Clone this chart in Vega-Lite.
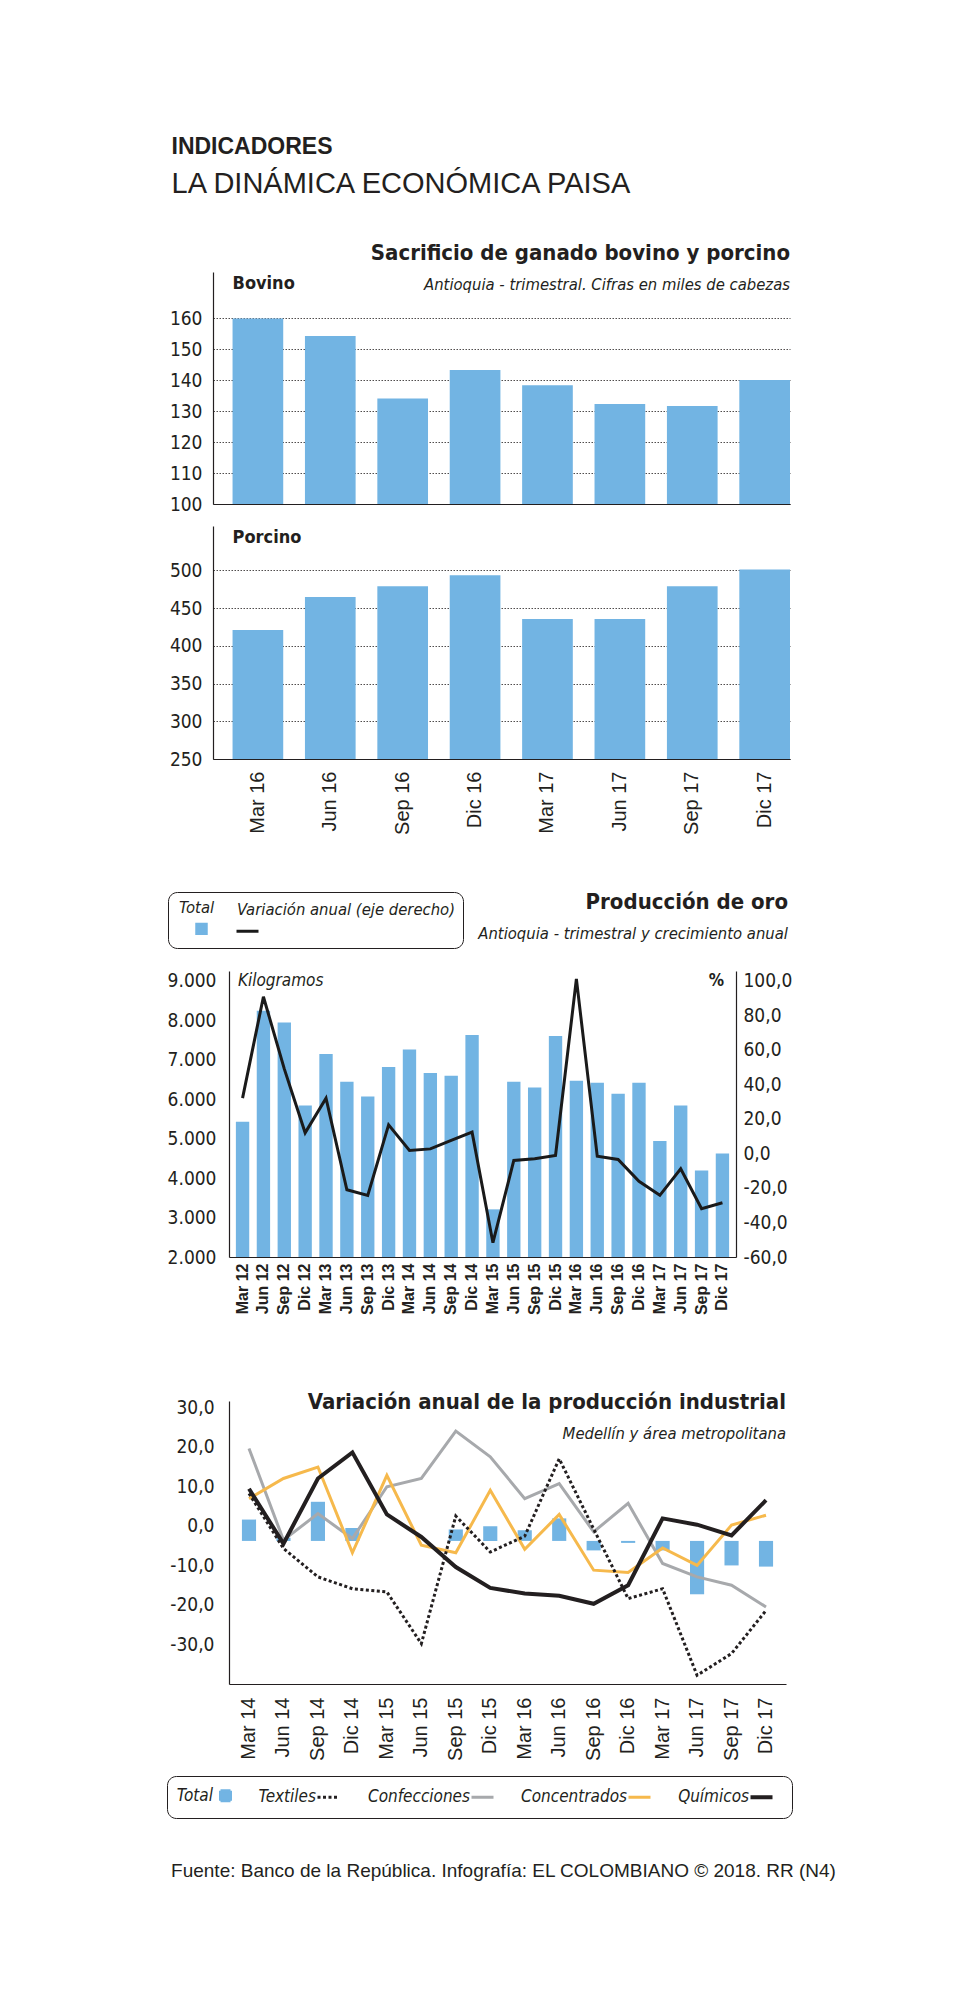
{
"$schema": "https://vega.github.io/schema/vega-lite/v6.json",
"background": "white",
"autosize": {"type": "pad"},
"padding": {"left": 166, "top": 135, "right": 10, "bottom": 10},
"title": {"text": "INDICADORES", "subtitle": "LA DINÁMICA ECONÓMICA PAISA", "anchor": "start", "frame": "bounds", "dx": 5, "offset": 43,
  "font": "Liberation Sans, Arial, sans-serif", "fontSize": 23, "fontWeight": 900, "color": "#231f20",
  "subtitleFont": "Liberation Sans, Arial, sans-serif", "subtitleFontSize": 29, "subtitleFontWeight": 300, "subtitleFontStyle": "normal", "subtitleColor": "#231f20", "subtitlePadding": 11},
"bounds": "flush",
"spacing": 0,
"resolve": {"scale": {"color": "independent"}, "legend": {"color": "independent"}},
"vconcat": [
 {
  "width": 561, "height": 232,
  "title": {"text": "Sacrificio de ganado bovino y porcino", "subtitle": "Antioquia - trimestral. Cifras en miles de cabezas", "anchor": "end", "frame": "group", "offset": -22},
  "layer": [
   {"data": {"values": [{"q":"Mar 16","v":160},{"q":"Jun 16","v":154.3},{"q":"Sep 16","v":134.1},{"q":"Dic 16","v":143.3},{"q":"Mar 17","v":138.4},{"q":"Jun 17","v":132.3},{"q":"Sep 17","v":131.7},{"q":"Dic 17","v":140.1}]},
    "mark": {"type": "bar", "color": "#72b4e3"},
    "encoding": {
     "x": {"field": "q", "type": "ordinal", "sort": null, "scale": {"range": [-16, 561], "paddingInner": 0.3, "paddingOuter": 0.135, "align": 1}, "axis": {"labels": false, "domain": true, "title": null}},
     "y": {"field": "v", "type": "quantitative", "scale": {"domain": [100, 175], "zero": false, "nice": false}, "axis": {"values": [100,110,120,130,140,150,160], "labelOverlap": false, "grid": true, "gridDash": [1.5,1.5], "gridColor": "#231f20", "gridWidth": 0.8, "offset": 16, "labelPadding": 11}},
     "y2": {"datum": 100}
    }},
   {"data": {"values": [{"t": "Bovino"}]},
    "mark": {"type": "text", "align": "left", "baseline": "top", "font": "Liberation Sans Narrow, DejaVu Sans Condensed, Arial Narrow, sans-serif", "fontWeight": "bold", "fontSize": 18, "dy": 3, "color": "#231f20"},
    "encoding": {"text": {"field": "t"}, "x": {"datum": "Mar 16", "bandPosition": 0},
     "y": {"datum": 175, "type": "quantitative", "axis": {"values": [100,110,120,130,140,150,160], "labelOverlap": false, "grid": true, "gridDash": [1.5,1.5], "gridColor": "#231f20", "gridWidth": 0.8, "offset": 16, "labelPadding": 11}}}}
  ]
 },
 {"width": 10, "height": 22, "data": {"values": [{"a": 1}]}, "mark": {"type": "text"}, "encoding": {"text": {"value": ""}}},
 {
  "width": 561, "height": 233,
  "layer": [
   {"data": {"values": [{"q":"Mar 16","v":421},{"q":"Jun 16","v":464.7},{"q":"Sep 16","v":479.2},{"q":"Dic 16","v":493.8},{"q":"Mar 17","v":435.5},{"q":"Jun 17","v":435.5},{"q":"Sep 17","v":479.2},{"q":"Dic 17","v":501.3}]},
    "mark": {"type": "bar", "color": "#72b4e3"},
    "encoding": {
     "x": {"field": "q", "type": "ordinal", "sort": null, "scale": {"range": [-16, 561], "paddingInner": 0.3, "paddingOuter": 0.135, "align": 1}, "axis": {"labelAngle": -90, "labelFont": "Liberation Sans, Arial, sans-serif", "labelFontSize": 20, "labelPadding": 12, "labelOverlap": false, "domain": true, "title": null}},
     "y": {"field": "v", "type": "quantitative", "scale": {"domain": [250, 559], "zero": false, "nice": false}, "axis": {"values": [250,300,350,400,450,500], "labelOverlap": false, "grid": true, "gridDash": [1.5,1.5], "gridColor": "#231f20", "gridWidth": 0.8, "offset": 16, "labelPadding": 11}},
     "y2": {"datum": 250}
    }},
   {"data": {"values": [{"t": "Porcino"}]},
    "mark": {"type": "text", "align": "left", "baseline": "top", "font": "Liberation Sans Narrow, DejaVu Sans Condensed, Arial Narrow, sans-serif", "fontWeight": "bold", "fontSize": 18, "dy": 3, "color": "#231f20"},
    "encoding": {"text": {"field": "t"}, "x": {"datum": "Mar 16", "bandPosition": 0},
     "y": {"datum": 559, "type": "quantitative", "axis": {"values": [250,300,350,400,450,500], "labelOverlap": false, "grid": true, "gridDash": [1.5,1.5], "gridColor": "#231f20", "gridWidth": 0.8, "offset": 16, "labelPadding": 11}}}}
  ]
 },
 {"width": 10, "height": 212, "data": {"values": [{"a": 1}]}, "mark": {"type": "text"}, "encoding": {"text": {"value": ""}}},
 {
  "width": 507, "height": 286,
  "title": {"text": "Producción de oro", "subtitle": "Antioquia - trimestral y crecimiento anual", "anchor": "end", "frame": "group", "offset": -52, "dx": 52},
  "data": {"values": [
   {"q":"Mar 12","kg":5425,"var":32.0},{"q":"Jun 12","kg":8241,"var":90.7},{"q":"Sep 12","kg":7938,"var":48.9},{"q":"Dic 12","kg":5838,"var":11.9},
   {"q":"Mar 13","kg":7145,"var":32.0},{"q":"Jun 13","kg":6437,"var":-21.1},{"q":"Sep 13","kg":6066,"var":-24.3},{"q":"Dic 13","kg":6816,"var":16.5},
   {"q":"Mar 14","kg":7255,"var":1.7},{"q":"Jun 14","kg":6664,"var":2.6},{"q":"Sep 14","kg":6589,"var":7.5},{"q":"Dic 14","kg":7626,"var":12.3},
   {"q":"Mar 15","kg":3207,"var":-51.7},{"q":"Jun 15","kg":6437,"var":-4.1},{"q":"Sep 15","kg":6293,"var":-3.1},{"q":"Dic 15","kg":7600,"var":-1.2},
   {"q":"Mar 16","kg":6462,"var":101.0},{"q":"Jun 16","kg":6411,"var":-1.6},{"q":"Sep 16","kg":6133,"var":-3.5},{"q":"Dic 16","kg":6411,"var":-16.2},
   {"q":"Mar 17","kg":4936,"var":-24.3},{"q":"Jun 17","kg":5838,"var":-8.9},{"q":"Sep 17","kg":4194,"var":-32.0},{"q":"Dic 17","kg":4624,"var":-28.6}
  ]},
  "encoding": {
   "x": {"field": "q", "type": "ordinal", "sort": null, "scale": {"paddingInner": 0.36, "paddingOuter": 0.33}, "axis": {"labelAngle": -90, "labelFont": "Liberation Sans, Arial, sans-serif", "labelFontSize": 16, "labelFontWeight": "bold", "labelPadding": 6, "labelOverlap": false, "domain": true, "title": null}}
  },
  "layer": [
   {"layer": [
     {"mark": {"type": "bar"},
      "encoding": {
       "y": {"field": "kg", "type": "quantitative", "scale": {"domain": [2000, 9245], "zero": false, "nice": false}, "axis": {"values": [2000,3000,4000,5000,6000,7000,8000,9000], "labelOverlap": false, "labelExpr": "replace(format(datum.value, ',d'), ',', '.')", "labelPadding": 13}},
       "y2": {"datum": 2000},
       "color": {"datum": "Total", "type": "nominal", "scale": {"domain": ["Total", "Variación anual (eje derecho)"], "range": ["#72b4e3", "#1a1a1a"]},
        "legend": {"orient": "none", "legendX": -61, "legendY": -79, "direction": "horizontal",
         "title": " ", "titleFontSize": 14, "titlePadding": 2, "titleOrient": "top",
         "strokeColor": "#231f20", "cornerRadius": 9, "padding": 8,
         "labelFont": "Liberation Sans Narrow, DejaVu Sans Condensed, Arial Narrow, sans-serif", "labelFontStyle": "italic", "labelFontSize": 16.5, "labelColor": "#231f20", "labelLimit": 400,
         "labelOffset": -23, "symbolOffset": 13, "columnPadding": 7, "symbolSize": 484,
         "encode": {
          "symbols": {"update": {
           "shape": {"signal": "datum.value === 'Total' ? 'square' : 'stroke'"},
           "size": {"signal": "datum.value === 'Total' ? 90 : 484"},
           "fill": {"signal": "datum.value === 'Total' ? '#72b4e3' : 'transparent'"},
           "stroke": {"signal": "datum.value === 'Total' ? 'transparent' : '#1a1a1a'"},
           "strokeWidth": {"value": 3},
           "opacity": {"value": 1}}},
          "labels": {"update": {"dx": {"signal": "datum.value === 'Total' ? -12 : 0"}, "dy": {"value": -21}}}
         }}}
      }},
     {"data": {"values": [{"t": "Kilogramos"}]},
      "mark": {"type": "text", "align": "left", "baseline": "middle", "font": "Liberation Sans Narrow, DejaVu Sans Condensed, Arial Narrow, sans-serif", "fontStyle": "italic", "fontSize": 17, "dx": 2, "color": "#231f20"},
      "encoding": {"text": {"field": "t"}, "x": {"datum": "Mar 12", "bandPosition": 0}, "y": {"datum": 9000}}},
     {"data": {"values": [{"t": "%"}]},
      "mark": {"type": "text", "align": "right", "baseline": "middle", "font": "Liberation Sans Narrow, DejaVu Sans Condensed, Arial Narrow, sans-serif", "fontWeight": "bold", "fontSize": 17, "dx": -5, "color": "#231f20"},
      "encoding": {"text": {"field": "t"}, "x": {"datum": "Dic 17", "bandPosition": 1}, "y": {"datum": 9000}}}
   ]},
   {"mark": {"type": "line", "strokeWidth": 3, "strokeJoin": "miter"},
    "encoding": {
     "y": {"field": "var", "type": "quantitative", "scale": {"domain": [-60, 105.6], "zero": false, "nice": false}, "axis": {"orient": "right", "values": [-60,-40,-20,0,20,40,60,80,100], "labelOverlap": false, "labelExpr": "replace(replace(format(datum.value, '.1f'), '.', ','), '\u2212', '-')", "labelPadding": 7}},
     "color": {"datum": "Variación anual (eje derecho)", "type": "nominal"}
    }}
  ],
  "resolve": {"scale": {"y": "independent"}}
 },
 {"width": 10, "height": 144, "data": {"values": [{"a": 1}]}, "mark": {"type": "text"}, "encoding": {"text": {"value": ""}}},
 {
  "width": 557, "height": 283,
  "title": {"text": "Variación anual de la producción industrial", "subtitle": "Medellín y área metropolitana", "anchor": "end", "frame": "group", "offset": -45},
  "data": {"values": [
   {"q":"Mar 14","s":"Total","v":5.4},{"q":"Jun 14","s":"Total","v":0.8},{"q":"Sep 14","s":"Total","v":9.9},{"q":"Dic 14","s":"Total","v":3.3},{"q":"Mar 15","s":"Total","v":0},{"q":"Jun 15","s":"Total","v":0},{"q":"Sep 15","s":"Total","v":2.9},{"q":"Dic 15","s":"Total","v":3.7},{"q":"Mar 16","s":"Total","v":2.7},{"q":"Jun 16","s":"Total","v":5.7},{"q":"Sep 16","s":"Total","v":-2.4},{"q":"Dic 16","s":"Total","v":-0.5},{"q":"Mar 17","s":"Total","v":-2.4},{"q":"Jun 17","s":"Total","v":-13.5},{"q":"Sep 17","s":"Total","v":-6.2},{"q":"Dic 17","s":"Total","v":-6.5},
   {"q":"Mar 14","s":"Textiles","v":12.0},{"q":"Jun 14","s":"Textiles","v":-1.9},{"q":"Sep 14","s":"Textiles","v":-9.1},{"q":"Dic 14","s":"Textiles","v":-12.1},{"q":"Mar 15","s":"Textiles","v":-12.9},{"q":"Jun 15","s":"Textiles","v":-26.0},{"q":"Sep 15","s":"Textiles","v":6.3},{"q":"Dic 15","s":"Textiles","v":-2.8},{"q":"Mar 16","s":"Textiles","v":1.2},{"q":"Jun 16","s":"Textiles","v":20.8},{"q":"Sep 16","s":"Textiles","v":3.0},{"q":"Dic 16","s":"Textiles","v":-14.6},{"q":"Mar 17","s":"Textiles","v":-12.1},{"q":"Jun 17","s":"Textiles","v":-34.0},{"q":"Sep 17","s":"Textiles","v":-28.5},{"q":"Dic 17","s":"Textiles","v":-17.6},
   {"q":"Mar 14","s":"Confecciones","v":23.4},{"q":"Jun 14","s":"Confecciones","v":0.2},{"q":"Sep 14","s":"Confecciones","v":6.9},{"q":"Dic 14","s":"Confecciones","v":0.6},{"q":"Mar 15","s":"Confecciones","v":13.7},{"q":"Jun 15","s":"Confecciones","v":15.8},{"q":"Sep 15","s":"Confecciones","v":27.8},{"q":"Dic 15","s":"Confecciones","v":21.3},{"q":"Mar 16","s":"Confecciones","v":10.7},{"q":"Jun 16","s":"Confecciones","v":14.5},{"q":"Sep 16","s":"Confecciones","v":2.3},{"q":"Dic 16","s":"Confecciones","v":9.5},{"q":"Mar 17","s":"Confecciones","v":-5.7},{"q":"Jun 17","s":"Confecciones","v":-9.1},{"q":"Sep 17","s":"Confecciones","v":-11.2},{"q":"Dic 17","s":"Confecciones","v":-16.7},
   {"q":"Mar 14","s":"Concentrados","v":10.7},{"q":"Jun 14","s":"Concentrados","v":15.8},{"q":"Sep 14","s":"Concentrados","v":18.7},{"q":"Dic 14","s":"Concentrados","v":-3.0},{"q":"Mar 15","s":"Concentrados","v":16.6},{"q":"Jun 15","s":"Concentrados","v":-1.1},{"q":"Sep 15","s":"Concentrados","v":-3.0},{"q":"Dic 15","s":"Concentrados","v":12.8},{"q":"Mar 16","s":"Concentrados","v":-2.1},{"q":"Jun 16","s":"Concentrados","v":6.7},{"q":"Sep 16","s":"Concentrados","v":-7.4},{"q":"Dic 16","s":"Concentrados","v":-8.0},{"q":"Mar 17","s":"Concentrados","v":-1.8},{"q":"Jun 17","s":"Concentrados","v":-6.2},{"q":"Sep 17","s":"Concentrados","v":4.0},{"q":"Dic 17","s":"Concentrados","v":6.5},
   {"q":"Mar 14","s":"Químicos","v":13.2},{"q":"Jun 14","s":"Químicos","v":-0.7},{"q":"Sep 14","s":"Químicos","v":15.8},{"q":"Dic 14","s":"Químicos","v":22.4},{"q":"Mar 15","s":"Químicos","v":6.7},{"q":"Jun 15","s":"Químicos","v":1.0},{"q":"Sep 15","s":"Químicos","v":-6.6},{"q":"Dic 15","s":"Químicos","v":-11.9},{"q":"Mar 16","s":"Químicos","v":-13.3},{"q":"Jun 16","s":"Químicos","v":-13.9},{"q":"Sep 16","s":"Químicos","v":-15.9},{"q":"Dic 16","s":"Químicos","v":-11.2},{"q":"Mar 17","s":"Químicos","v":5.7},{"q":"Jun 17","s":"Químicos","v":4.1},{"q":"Sep 17","s":"Químicos","v":1.4},{"q":"Dic 17","s":"Químicos","v":10.3}
  ]},
  "encoding": {
   "x": {"field": "q", "type": "ordinal", "sort": null, "scale": {"paddingInner": 0.59, "paddingOuter": 0.375}, "axis": {"labelAngle": -90, "labelFont": "Liberation Sans, Arial, sans-serif", "labelFontSize": 20, "labelPadding": 13, "labelOverlap": false, "domain": true, "title": null}},
   "y": {"field": "v", "type": "quantitative", "scale": {"domain": [-36.2, 35.4], "zero": false, "nice": false}, "axis": {"values": [-30,-20,-10,0,10,20,30], "labelOverlap": false, "labelExpr": "replace(replace(format(datum.value, '.1f'), '.', ','), '\u2212', '-')", "labelOffset": -15, "labelPadding": 15}}
  },
  "layer": [
   {"transform": [{"filter": "datum.s === 'Total'"}],
    "mark": {"type": "bar"},
    "encoding": {"y2": {"datum": 0}, "color": {"field": "s", "type": "nominal", "scale": {"domain": ["Total", "Textiles", "Confecciones", "Concentrados", "Químicos"], "range": ["#72b4e3", "#231f20", "#a7a9ac", "#f6b94c", "#231f20"]},
      "legend": {"orient": "none", "legendX": -62, "legendY": 375, "direction": "horizontal", "title": null,
       "strokeColor": "#231f20", "cornerRadius": 9, "padding": 11,
       "labelFont": "Liberation Sans Narrow, DejaVu Sans Condensed, Arial Narrow, sans-serif", "labelFontStyle": "italic", "labelFontSize": 17, "labelColor": "#231f20",
       "labelAlign": "right", "labelOffset": -21, "symbolOffset": 39, "columnPadding": 21, "symbolSize": 484,
       "encode": {
        "symbols": {"update": {
         "shape": {"signal": "datum.value === 'Total' ? 'square' : 'stroke'"},
         "size": {"signal": "datum.value === 'Total' ? 100 : 484"},
         "fill": {"signal": "datum.value === 'Total' ? '#72b4e3' : 'transparent'"},
         "stroke": {"signal": "datum.value === 'Total' ? 'transparent' : (datum.value === 'Confecciones' ? '#a7a9ac' : (datum.value === 'Concentrados' ? '#f6b94c' : '#231f20'))"},
         "strokeDash": {"signal": "datum.value === 'Textiles' ? [3, 2.5] : [1, 0]"},
         "strokeWidth": {"signal": "datum.value === 'Químicos' ? 4 : 3"},
         "opacity": {"value": 1}}},
        "labels": {"update": {"dx": {"value": 0}}}
       }}}}},
   {"data": {"values": [{"a": 1}]},
    "mark": {"type": "rule", "strokeDash": [1.5, 1.5], "color": "#231f20", "strokeWidth": 1},
    "encoding": {"x": null, "y": {"datum": 0}}},
   {"transform": [{"filter": "datum.s === 'Confecciones'"}],
    "mark": {"type": "line", "strokeWidth": 3},
    "encoding": {"color": {"field": "s", "type": "nominal"}}},
   {"transform": [{"filter": "datum.s === 'Concentrados'"}],
    "mark": {"type": "line", "strokeWidth": 3},
    "encoding": {"color": {"field": "s", "type": "nominal"}}},
   {"transform": [{"filter": "datum.s === 'Textiles'"}],
    "mark": {"type": "line", "strokeWidth": 3, "strokeDash": [3, 2.5]},
    "encoding": {"color": {"field": "s", "type": "nominal"}}},
   {"transform": [{"filter": "datum.s === 'Químicos'"}],
    "mark": {"type": "line", "strokeWidth": 4},
    "encoding": {"color": {"field": "s", "type": "nominal"}}},
   {"data": {"values": [{"t": "%"}]},
    "mark": {"type": "text", "align": "left", "baseline": "top", "font": "Liberation Sans, Arial, sans-serif", "fontWeight": "bold", "fontSize": 16, "dx": -3, "dy": 1, "color": "#231f20"},
    "encoding": {"text": {"field": "t"}, "x": {"datum": "Mar 14", "bandPosition": 0}, "y": {"datum": 35.4}}}
  ]
 },
 {"width": 10, "height": 177, "data": {"values": [{"a": 1}]}, "mark": {"type": "text"}, "encoding": {"text": {"value": ""}}},
 {"width": 549, "height": 20,
  "data": {"values": [{"t": "Fuente: Banco de la República. Infografía: EL COLOMBIANO © 2018. RR (N4)"}]},
  "mark": {"type": "text", "align": "center", "baseline": "middle", "font": "Liberation Sans, Arial, sans-serif", "fontSize": 19, "color": "#231f20"},
  "encoding": {"text": {"field": "t"}}}
],
"config": {
 "view": {"stroke": null},
 "axis": {"labelColor": "#231f20", "domainColor": "#231f20", "domainWidth": 1.2, "ticks": false, "grid": false, "title": null, "labelFont": "Liberation Sans Narrow, DejaVu Sans Condensed, Arial Narrow, sans-serif", "labelFontSize": 19},
 "title": {"color": "#231f20", "font": "Liberation Sans Narrow, DejaVu Sans Condensed, Arial Narrow, sans-serif", "fontSize": 22, "fontWeight": "bold", "subtitleFont": "Liberation Sans Narrow, DejaVu Sans Condensed, Arial Narrow, sans-serif", "subtitleFontStyle": "italic", "subtitleFontSize": 16.5, "subtitleColor": "#231f20", "subtitlePadding": 12}
}
}
